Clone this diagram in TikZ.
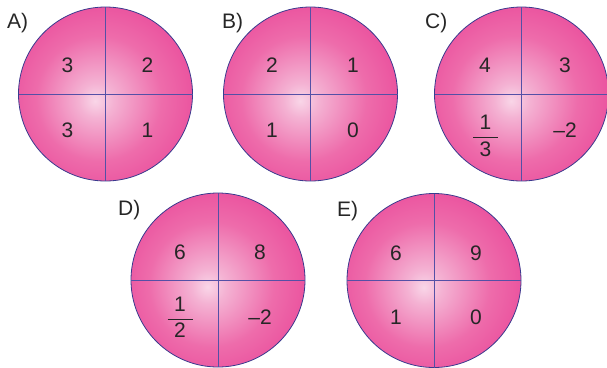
\documentclass[tikz,border=0pt]{standalone}
\usepackage{fontspec}
\setmainfont{Liberation Sans}
\definecolor{pk0}{HTML}{F9D6E8}
\definecolor{pk1}{HTML}{F4B2D3}
\definecolor{pk2}{HTML}{EE6CAB}
\definecolor{pk3}{HTML}{EA4E9C}
\definecolor{pk4}{HTML}{E52C8B}
\definecolor{pk5}{HTML}{DB0C7B}
\definecolor{rimblue}{HTML}{3A3A8E}
\definecolor{crossblue}{HTML}{5450A6}
\definecolor{numgray}{HTML}{262626}
\pgfdeclareradialshading{ballshade}{\pgfpoint{-3bp}{-2bp}}{%
  color(0bp)=(pk0); color(5bp)=(pk1); color(18bp)=(pk2); color(29bp)=(pk3);
  color(41bp)=(pk4); color(48.5bp)=(pk5); color(50bp)=(pk5)}
\tikzset{
  ball/.style={circle, shading=ballshade, draw=rimblue, line width=0.8pt,
    minimum size=174pt, inner sep=0pt, outer sep=0pt},
  cross/.style={draw=crossblue, line width=1pt},
  num/.style={font=\fontsize{21}{24}\selectfont, text=numgray, inner sep=0pt},
  lbl/.style={font=\fontsize{21}{24}\selectfont, text=numgray, inner sep=0pt, anchor=west},
  fbar/.style={draw=numgray, line width=0.9pt}
}
\begin{document}
\begin{tikzpicture}[x=1pt,y=-1pt]
\useasboundingbox (0,0) rectangle (607,367);
% circles
\node[ball] (A) at (105.5,94) {};
\node[ball] (B) at (310.5,94) {};
\node[ball] (C) at (521.5,94) {};
\node[ball] (D) at (218,280) {};
\node[ball] (E) at (434,280.5) {};
\foreach \c in {A,B,C,D,E}{
  \draw[cross] (\c.north) -- (\c.south);
  \draw[cross] (\c.west) -- (\c.east);
}
% labels
\node[lbl] (lA) at (7,23.3) {A)};
\node[lbl] (lB) at (222,23.3) {B)};
\node[lbl] (lC) at (425,23.3) {C)};
\node[lbl] (lD) at (118,210) {D)};
\node[lbl] (lE) at (337,211) {E)};
% A
\node[num] (a1) at (67.5,65) {3};
\node[num] (a2) at (147.5,65) {2};
\node[num] (a3) at (67.5,130) {3};
\node[num] (a4) at (147.5,130) {1};
% B
\node[num] (b1) at (272,65) {2};
\node[num] (b2) at (353,65) {1};
\node[num] (b3) at (272,130) {1};
\node[num] (b4) at (353,130) {0};
% C
\node[num] (c1) at (485,65) {4};
\node[num] (c2) at (565,65) {3};
\node[num] (c3n) at (485.5,122.5) {1};
\coordinate (c3l) at (473,137.7);
\coordinate (c3r) at (498,137.7);
\draw[fbar] (c3l) -- (c3r);
\node[num] (c3d) at (485.5,149.2) {3};
\node[num] (c4) at (565,130) {–2};
% D
\node[num] (d1) at (180,252) {6};
\node[num] (d2) at (260,252) {8};
\node[num] (d3n) at (180,304) {1};
\coordinate (d3l) at (167.5,319);
\coordinate (d3r) at (192.5,319);
\draw[fbar] (d3l) -- (d3r);
\node[num] (d3d) at (180,330) {2};
\node[num] (d4) at (260,317) {–2};
% E
\node[num] (e1) at (396,253) {6};
\node[num] (e2) at (476,253) {9};
\node[num] (e3) at (396,317) {1};
\node[num] (e4) at (476,317) {0};
\end{tikzpicture}
\end{document}
